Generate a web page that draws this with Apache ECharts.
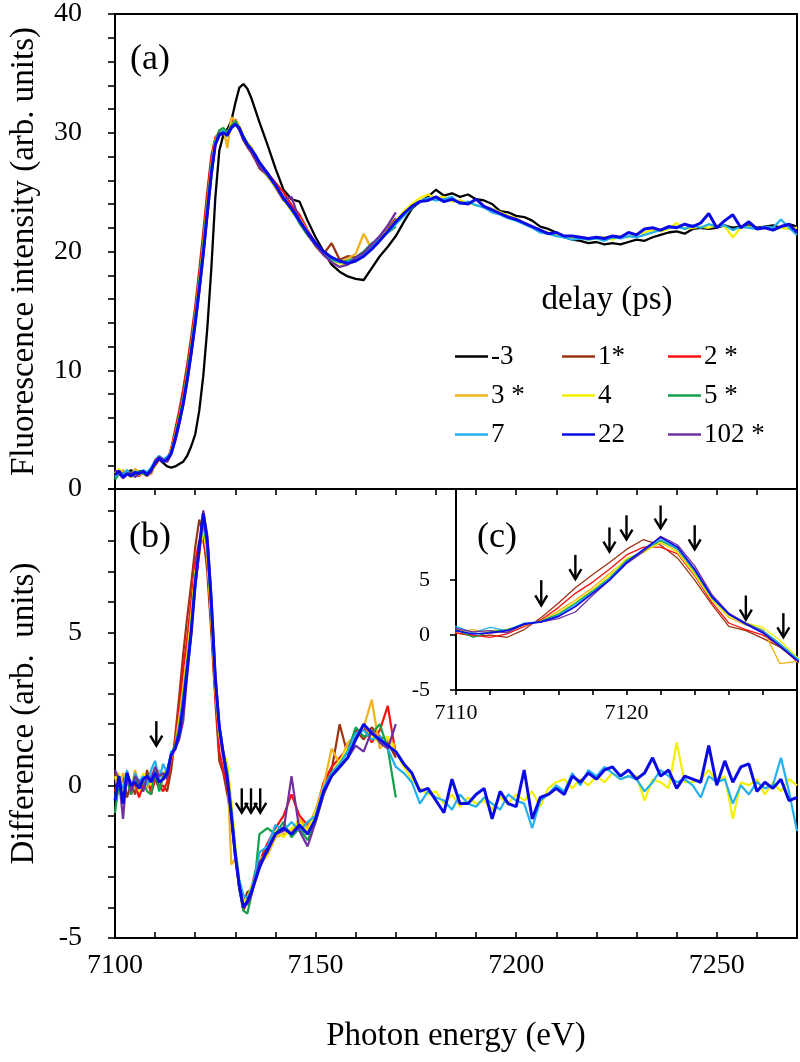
<!DOCTYPE html>
<html><head><meta charset="utf-8">
<script src="https://cdn.jsdelivr.net/npm/echarts@6/dist/echarts.min.js"></script>
<style>html,body{margin:0;padding:0;background:#fff}#c{width:800px;height:1062px}</style>
</head><body><div id="c"></div>
<script>
// Photon energy grid (eV): 1 eV steps across the edge, 2 eV steps above it
const E1 = [7100,7101,7102,7103,7104,7105,7106,7107,7108,7109,7110,7111,7112,7113,7114,7115,7116,7117,7118,7119,7120,7121,7122,7123,7124,7125,7126,7127,7128,7129,7130,7131,7132,7133,7134,7135,7136];
const E2 = [7138,7140,7142,7144,7146,7148,7150,7152,7154,7156,7158,7160,7162,7164,7166,7168,7170,7172,7174,7176,7178,7180,7182,7184,7186,7188,7190,7192,7194,7196,7198,7200,7202,7204,7206,7208,7210,7212,7214,7216,7218,7220,7222,7224,7226,7228,7230,7232,7234,7236,7238,7240,7242,7244,7246,7248,7250,7252,7254,7256,7258,7260,7262,7264,7266,7268,7270];

const delays = ['-3','1*','2 *','3 *','4','5 *','7','22','102 *'];
const colors = {'-3':'#000000','1*':'#9c3412','2 *':'#ff1010','3 *':'#f2b21e','4':'#f4f000','5 *':'#12a04a','7':'#22b0ee','22':'#0a0ae6','102 *':'#7030a0'};

// (a) Fluorescence intensity
const aM3 = [1.4,1.2,1.5,1.3,1.6,1.2,1.5,1.4,1.3,1.6, 2.1,2.5,2.2,1.9,1.8,1.9,2.1,2.3,2.8,3.6, 4.6,6.6,9.5,13.5,18.5,24.5,28.5,29.8,30.3,31.0, 32.5,33.8,34.1,33.7,32.9,31.9,30.9,
  29.0,27.0,25.2,24.4,24.2,22.6,21.2,20.0,18.9,18.3, 17.9,17.7,17.6,18.6,19.6,20.4,21.3,22.5,23.6,24.2, 24.6,25.2,24.7,24.9,24.6,24.8,24.4,24.3,24.0,23.4,
  23.3,23.0,22.9,22.6,22.1,21.9,21.6,21.2,21.0,20.9, 20.7,20.8,20.6,20.7,20.6,20.8,21.0,20.9,21.2,21.4, 21.6,21.7,21.5,21.9,22.0,21.9,22.0,22.2,22.0,22.1, 22.2,22.0,22.1,22.2,22.0,22.3,22.1];
const a1 = [1.1,1.4,1.2,1.3,1.0,1.5,1.2,1.3,1.1,1.5, 2.0,2.5,2.4,2.3,3.4,5.0,6.6,8.4,10.5,12.8, 15.4,18.4,21.6,25.0,28.0,29.6,30.0,29.9,29.7,30.6, 30.9,30.3,29.4,28.8,28.3,27.7,27.0,
  26.4,25.4,24.3,23.8,22.4,21.4,20.5,19.8,20.7,19.3,19.6,19.5,19.9,20.3,21.1,21.9,22.8];
const a2 = [1.2,1.3,1.0,1.4,1.2,1.3,1.1,1.5,1.3,1.4, 2.1,2.6,2.3,2.5,3.3,4.8,6.3,8.0,10.1,12.4, 15.0,18.0,21.2,24.6,27.6,29.5,29.9,30.0,29.8,30.8, 31.1,30.5,29.6,29.0,28.4,27.8,27.2,
  26.6,25.8,25.0,23.9,23.1,21.8,20.7,19.9,19.4,19.2,19.0,19.3,19.7,20.2,21.0,21.7,22.6];
const a3 = [1.5,1.2,1.6,1.3,1.1,1.7,1.4,1.3,1.5,1.2, 2.2,2.6,2.3,2.4,3.2,4.5,6.0,7.6,9.7,12.0, 14.6,17.5,20.6,24.0,27.2,29.4,30.2,30.4,28.7,31.3, 31.0,30.5,29.6,29.1,28.8,27.9,27.3,
  26.3,25.5,24.5,23.5,22.8,21.7,20.4,19.7,19.4,19.0,19.4,19.8,21.5,20.2,21.0,21.8,22.4];
const a4 = [1.3,1.7,1.1,1.4,1.0,1.5,1.2,1.4,1.3,1.7, 2.3,2.7,2.4,2.6,3.2,4.4,5.8,7.4,9.5,11.8, 14.3,17.2,20.3,23.6,26.8,29.3,30.1,30.3,30.0,30.7, 31.0,30.6,29.7,29.2,28.6,28.0,27.4,
  26.4,25.4,24.4,23.4,22.5,21.5,20.6,19.9,19.3,19.0, 18.9,19.2,19.7,20.3,21.0,21.8,22.6,23.4,24.0,24.5, 24.8,24.5,24.6,24.2,24.3,24.1,23.9,23.8,23.6,23.3,
  23.0,22.8,22.4,22.1,21.7,21.6,21.4,21.3,21.1,21.2, 21.0,21.1,21.2,21.0,21.3,21.2,21.5,21.6,21.8,21.7, 21.9,22.4,21.9,22.0,22.1,22.0,22.2,22.1,21.2,22.0, 22.1,21.9,22.0,21.8,22.0,21.9,22.0];
const a5 = [0.8,1.3,1.1,1.2,1.4,1.1,1.5,1.3,1.2,1.6, 2.3,2.7,2.4,2.6,3.1,4.4,5.9,7.5,9.6,11.9, 14.4,17.3,20.4,23.8,27.0,29.3,30.2,30.4,30.0,30.6, 31.0,30.4,29.7,29.1,28.6,28.0,27.3,
  26.4,25.6,24.4,23.6,22.4,21.4,20.6,19.8,19.3,19.1,19.2,19.5,20.0,20.7,21.0,21.6,22.1];
const a7 = [1.0,1.4,1.2,1.6,1.1,1.5,1.3,1.6,1.4,1.8, 2.4,2.8,2.5,2.7,3.1,4.3,5.7,7.3,9.3,11.6, 14.1,17.0,20.0,23.4,26.7,29.2,29.9,30.2,29.7,30.5, 30.8,30.3,29.5,29.0,28.5,27.9,27.2,
  26.5,25.5,24.6,23.5,22.5,21.6,20.5,19.9,19.4,19.1, 19.1,19.4,19.8,20.4,21.0,21.6,22.3,23.0,23.7,24.2, 24.5,24.3,24.4,24.6,24.0,24.2,23.9,23.7,23.3,23.1,
  22.8,22.6,22.3,22.0,21.6,21.5,21.3,21.2,21.0,21.1, 21.0,21.1,20.9,21.2,21.1,21.3,21.2,21.4,21.6,21.8, 22.0,22.1,21.9,22.2,22.0,22.3,22.1,22.2,21.8,22.1, 22.0,21.9,22.1,22.0,22.7,22.0,21.4];
const a22 = [1.2,1.5,1.0,1.3,1.1,1.4,1.3,1.5,1.2,1.6, 2.2,2.6,2.3,2.5,3.0,4.2,5.6,7.2,9.2,11.5, 14.0,16.8,19.8,23.2,26.5,29.0,29.8,30.0,29.8,30.4, 30.7,30.4,29.6,29.0,28.6,28.1,27.5,
  26.6,25.6,24.5,23.6,22.6,21.6,20.7,20.0,19.5,19.2, 19.0,19.2,19.6,20.2,20.9,21.7,22.5,23.2,23.8,24.2, 24.3,24.6,24.2,24.4,24.1,24.0,24.4,23.8,23.5,23.2,
  22.9,22.7,22.4,22.1,21.8,21.5,21.6,21.3,21.3,21.2, 21.1,21.2,21.1,21.3,21.2,21.6,21.4,21.9,22.0,21.8, 22.1,22.0,22.3,22.1,22.4,23.2,22.0,22.6,23.1,22.0, 22.5,21.9,22.0,21.8,22.1,22.3,21.6];
const a102 = [1.6,1.3,0.9,1.2,1.4,1.0,1.3,1.5,1.2,1.4, 2.4,2.7,2.5,2.3,2.9,4.0,5.4,7.0,9.0,11.3, 13.8,16.6,19.6,23.0,26.3,29.0,30.0,29.9,29.9,30.5, 30.8,30.2,29.4,28.9,28.4,27.8,27.1,
  26.5,25.5,24.4,24.6,22.6,21.5,20.5,19.7,19.1,18.7,18.9,19.5,19.9,20.6,21.3,22.2,23.3];

// (b)/(c) Difference
const b1 = [0.4,-0.2,0.3,-0.4,0.1,-0.3,0.2,-0.2,0.5,-0.1, 0.2,-0.1,0.0,-0.2,0.5,1.6,2.9,4.3,5.5,6.6, 7.8,8.7,8.2,7.0,5.0,2.8,0.8,0.4,-0.3,-1.1, -2.3,-3.4,-3.8,-3.5,-3.4,-2.8,-2.6,
  -2.0,-1.6,-1.4,-1.6,-1.2,-1.4,-1.0,-0.1,0.5,2.0,1.0,1.8,1.5,1.9,1.6,1.4,0.9];
const b2 = [-0.2,0.2,-0.5,0.3,-0.3,0.1,-0.4,0.0,0.3,-0.3, 0.2,0.0,-0.2,0.1,0.8,1.4,2.5,3.8,4.8,6.0, 7.3,8.0,8.0,7.4,5.4,3.0,1.1,0.5,0.0,-1.0, -2.4,-3.4,-4.1,-3.8,-3.3,-3.0,-2.5,
  -1.9,-1.4,-1.0,-0.3,-1.0,-1.3,-0.9,0.1,0.6,0.9,1.2,1.7,1.9,1.4,1.8,2.6,1.0];
const b3 = [0.3,-0.3,0.4,0.1,-0.2,0.5,0.0,0.3,-0.1,0.4, 0.3,0.5,0.2,0.3,0.9,1.3,2.2,3.2,4.3,5.6, 6.8,7.6,8.4,7.6,5.6,3.3,1.6,0.9,0.5,-2.6, -2.4,-3.3,-3.7,-3.9,-3.4,-3.0,-2.6,
  -2.3,-1.7,-1.6,-1.5,-1.1,-1.4,-0.8,0.0,1.2,0.7,1.4,1.6,1.9,2.8,1.2,1.5,1.3];
const b4 = [0.2,0.4,-0.3,0.3,0.1,0.2,-0.2,0.4,0.2,0.0, 0.5,0.3,0.4,0.5,1.0,1.2,2.0,3.0,4.1,5.4, 7.0,7.5,8.5,7.5,5.5,3.2,1.7,1.1,0.7,-0.5, -2.0,-3.2,-3.8,-3.7,-3.3,-3.0,-2.4,
  -2.3,-1.5,-1.7,-1.4,-1.2,-1.5,-0.9,-0.2,0.4,0.8, 1.2,1.5,2.0,1.6,1.4,1.6,1.1,0.6,0.2,-0.1, -0.3,-0.2,-0.6,-0.3,-0.7,-0.4,-0.6,-0.5,-0.8,-0.4,
  -0.6,-0.3,-0.5,-0.2,-0.7,-0.1,0.1,0.2,-0.1,0.2, 0.0,0.3,0.1,0.4,0.2,0.3,0.3,-0.5,0.2,0.1, -0.1,1.4,0.1,0.1,0.2,0.5,0.1,0.3,-1.1,0.1, 0.0,0.2,-0.3,0.1,-0.2,0.2,0.0];
const b5 = [-0.9,0.1,-0.6,0.2,-0.3,0.3,-0.1,0.1,-0.2,-0.3, 0.5,-0.2,0.3,0.5,1.0,1.3,1.9,2.9,4.0,5.2, 6.8,7.7,8.6,7.8,5.8,3.4,1.9,1.1,0.4,-0.8, -2.2,-3.4,-4.1,-4.2,-3.6,-2.9,-1.6,
  -1.4,-1.6,-1.2,-1.7,-1.4,-1.8,-1.2,-0.3,0.4,0.7,1.1,1.9,1.6,1.7,2.0,1.2,-0.4];
const b7 = [-0.4,0.2,-0.1,0.5,-0.2,0.4,0.1,0.3,0.0,0.5, 0.8,0.2,0.7,0.4,1.1,1.2,1.8,2.8,3.9,5.1, 6.7,7.7,8.7,7.9,5.9,3.4,1.9,1.0,0.4,-0.8, -2.1,-3.1,-3.6,-3.7,-3.4,-2.9,-2.2,
  -2.0,-1.3,-1.5,-1.2,-1.5,-1.2,-1.0,-0.1,0.4,0.7, 1.1,1.7,1.8,1.5,1.6,1.2,0.6,0.4,0.1,-0.6, -0.2,-0.4,-0.5,-0.8,-0.3,-0.6,-0.7,-0.4,-0.6,-0.8,
  -0.3,-0.5,-0.6,-1.4,-0.5,-0.3,0.0,-0.2,0.4,0.0, 0.5,0.3,0.6,0.4,0.2,0.3,0.2,-0.2,0.1,0.5, 0.3,0.1,0.2,0.0,-0.4,0.3,0.1,0.2,-0.6,0.0, -0.3,0.1,-0.1,0.0,0.9,-0.2,-1.5];
const b22 = [-0.5,0.3,-0.6,0.4,0.0,0.1,-0.1,0.2,0.3,0.1, 0.4,0.1,0.2,0.4,1.0,1.2,1.7,2.6,3.8,5.0, 6.6,7.8,8.9,8.0,6.0,3.5,1.9,1.0,0.2,-1.0, -2.3,-3.3,-4.0,-3.8,-3.5,-3.1,-2.7,
  -2.1,-1.6,-1.4,-1.6,-1.3,-1.6,-1.1,-0.2,0.3,0.6, 0.9,1.5,2.0,1.7,1.5,1.3,1.1,0.7,0.4,-0.2, -0.1,-0.5,-0.9,0.2,-0.6,-0.6,-0.3,-0.1,-1.1,-0.2,
  -0.6,-0.7,0.5,-1.1,-0.4,-0.3,-0.1,-0.3,0.3,0.1, 0.4,0.2,0.5,0.6,0.3,0.5,0.2,0.4,0.9,0.3, 0.5,-0.1,0.3,0.2,0.1,1.3,0.0,0.8,0.1,0.6, 0.7,-0.2,0.1,-0.1,0.2,-0.5,-0.4];
const b102 = [0.5,0.2,-1.1,0.4,-0.2,0.3,0.1,-0.2,0.3,0.2, 0.6,0.3,0.4,0.2,1.0,1.2,1.5,2.1,3.6,5.0, 6.5,7.6,9.0,8.2,6.3,3.7,2.0,1.1,0.3,-1.0, -2.3,-3.3,-3.9,-3.9,-3.6,-3.1,-2.5,
  -2.2,-1.6,-1.5,0.3,-1.5,-2.0,-1.2,-0.3,0.3,0.6,0.9,1.3,1.1,1.8,1.4,1.2,2.0];

// Arrows: [energy, start value, tip value]
const arrowsB = [[7110.3,2.1,1.3],[7131.6,-0.1,-0.9],[7133.9,-0.1,-0.9],[7136.2,-0.1,-0.9]];
const arrowsC = [[7115,5.0,2.7],[7117,7.3,5.1],[7119,9.8,7.6],[7120,10.9,8.7],[7122,11.8,9.7],[7124,10.0,7.8],[7127,3.6,1.4],[7129.2,2.0,-0.2]];

const FONT = "'Liberation Serif','Times New Roman',serif";
const ENERGY = E1.concat(E2);
function pairs(vals){ return vals.map((v,i)=>[ENERGY[i], v]); }

const seriesA = {'-3':aM3,'1*':a1,'2 *':a2,'3 *':a3,'4':a4,'5 *':a5,'7':a7,'22':a22,'102 *':a102};
const seriesB = {'1*':b1,'2 *':b2,'3 *':b3,'4':b4,'5 *':b5,'7':b7,'22':b22,'102 *':b102};
const drawOrder = ['-3','1*','2 *','3 *','4','5 *','7','102 *','22'];

const series = [];
drawOrder.forEach(n=>{
  if(seriesA[n]) series.push({type:'line',name:n,xAxisIndex:0,yAxisIndex:0,data:pairs(seriesA[n]),symbol:'none',
    lineStyle:{color:colors[n],width:n==='22'?3:2.3},itemStyle:{color:colors[n]},clip:true,silent:true});
});
drawOrder.forEach(n=>{
  if(seriesB[n]) series.push({type:'line',name:n,xAxisIndex:1,yAxisIndex:1,data:pairs(seriesB[n]),symbol:'none',
    lineStyle:{color:colors[n],width:n==='22'?3:2.2},itemStyle:{color:colors[n]},clip:true,silent:true});
});
drawOrder.forEach(n=>{
  if(seriesB[n]) series.push({type:'line',name:n,xAxisIndex:2,yAxisIndex:2,data:pairs(seriesB[n]),symbol:'none',
    lineStyle:{color:colors[n],width:n==='22'?1.7:1.3},itemStyle:{color:colors[n]},clip:true,silent:true});
});

function arrowRender(params, api){
  const p1 = api.coord([api.value(0), api.value(1)]);
  const p2 = api.coord([api.value(0), api.value(2)]);
  return {type:'group', children:[
    {type:'line', shape:{x1:p1[0],y1:p1[1],x2:p2[0],y2:p2[1]}, style:{stroke:'#000',lineWidth:2.4}},
    {type:'polyline', shape:{points:[[p2[0]-6,p2[1]-10],[p2[0],p2[1]],[p2[0]+6,p2[1]-10]]}, style:{stroke:'#000',lineWidth:2.4,fill:null}}
  ]};
}
series.push({type:'custom',xAxisIndex:1,yAxisIndex:1,data:arrowsB,renderItem:arrowRender,encode:{x:0,y:[1,2]},clip:false,silent:true,z:10});
series.push({type:'custom',xAxisIndex:2,yAxisIndex:2,data:arrowsC,renderItem:arrowRender,encode:{x:0,y:[1,2]},clip:false,silent:true,z:10});

const tickStyle = {color:'#000', width:1.6};
const lineAx = {show:true, onZero:false, lineStyle:{color:'#000', width:2}};
const labelMain = {color:'#000', fontFamily:FONT, fontSize:28};

function legendCol(names, left){
  return {data:names, orient:'vertical', left:left, top:343, icon:'rect', itemWidth:33, itemHeight:2.5, itemGap:12,
    padding:0, selectedMode:false, textStyle:{fontFamily:FONT, fontSize:27, color:'#000', lineHeight:26, padding:[0,0,0,-2]}};
}

const option = {
  animation:false,
  backgroundColor:'#fff',
  grid:[
    {left:110, top:12, width:687, height:477, show:true, borderColor:'#000', borderWidth:2},
    {left:110, top:489, width:687, height:449, show:true, borderColor:'#000', borderWidth:2},
    {left:456, top:489, width:341, height:201, show:false}
  ],
  xAxis:[
    {type:'value', gridIndex:0, min:7100, max:7270, interval:10, axisLine:lineAx,
     axisTick:{show:true, inside:false, length:6, lineStyle:tickStyle}, axisLabel:{show:false}, splitLine:{show:false}},
    {type:'value', gridIndex:1, min:7100, max:7270, interval:10, axisLine:lineAx,
     axisTick:{show:true, inside:true, length:6, lineStyle:tickStyle},
     axisLabel:Object.assign({margin:14, formatter:v=> (Math.abs(v%50)<1e-6 ? String(v) : '')}, labelMain),
     splitLine:{show:false},
     name:'Photon energy (eV)', nameLocation:'middle', nameGap:82, nameTextStyle:{fontFamily:FONT, fontSize:33, color:'#000'}},
    {type:'value', gridIndex:2, min:7110, max:7130, interval:2, axisLine:lineAx,
     axisTick:{show:true, inside:false, length:5, lineStyle:tickStyle},
     axisLabel:{margin:12, color:'#000', fontFamily:FONT, fontSize:22, formatter:v=> (v===7110||v===7120 ? String(v) : '')},
     splitLine:{show:false}}
  ],
  yAxis:[
    {type:'value', gridIndex:0, min:0, max:40, interval:2, axisLine:lineAx,
     axisTick:{show:true, inside:false, length:7, lineStyle:tickStyle},
     axisLabel:Object.assign({margin:33, formatter:v=> (Math.abs(v%10)<1e-6 ? String(v) : '')}, labelMain),
     splitLine:{show:false},
     name:'Fluorescence intensity (arb. units)', nameLocation:'middle', nameGap:74, nameTextStyle:{fontFamily:FONT, fontSize:33, color:'#000'}},
    {type:'value', gridIndex:1, min:-5, max:9.7, interval:1, axisLine:lineAx,
     axisTick:{show:true, inside:false, length:7, lineStyle:tickStyle},
     axisLabel:Object.assign({margin:33, formatter:v=> (Math.abs(v%5)<1e-6 ? String(v) : '')}, labelMain),
     splitLine:{show:false},
     name:'Difference (arb.  units)', nameLocation:'middle', nameGap:74, nameTextStyle:{fontFamily:FONT, fontSize:33, color:'#000'}},
    {type:'value', gridIndex:2, min:-5, max:13.3, interval:5, axisLine:lineAx,
     axisTick:{show:true, inside:false, length:6, lineStyle:tickStyle, customValues:[-5,0,5]},
     axisLabel:{margin:26, color:'#000', fontFamily:FONT, fontSize:22, customValues:[-5,0,5], formatter:v=> (v<=5 ? String(v) : '')},
     splitLine:{show:false}}
  ],
  legend:[
    legendCol(['-3','3 *','7'], 455),
    legendCol(['1*','4','22'], 562),
    legendCol(['2 *','5 *','102 *'], 668)
  ],
  graphic:[
    {type:'text', x:150, y:60, style:{text:'(a)', fontFamily:FONT, fontSize:36, fill:'#000', align:'center', verticalAlign:'middle'}},
    {type:'text', x:150, y:538, style:{text:'(b)', fontFamily:FONT, fontSize:36, fill:'#000', align:'center', verticalAlign:'middle'}},
    {type:'text', x:497, y:538, style:{text:'(c)', fontFamily:FONT, fontSize:36, fill:'#000', align:'center', verticalAlign:'middle'}},
    {type:'text', x:607, y:300, style:{text:'delay (ps)', fontFamily:FONT, fontSize:33, fill:'#000', align:'center', verticalAlign:'middle'}}
  ],
  series:series
};
const chart = echarts.init(document.getElementById('c'), null, {renderer:'canvas'});
chart.setOption(option);
</script></body></html>
